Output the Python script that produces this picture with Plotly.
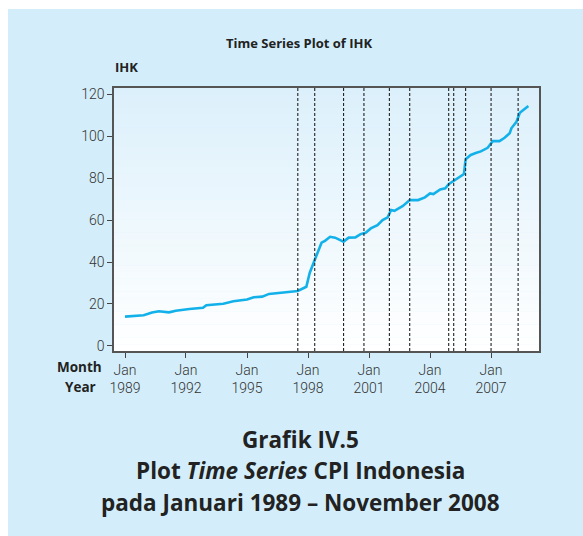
import plotly.graph_objects as go

# ---- data ----
months = [
    "1989-01", "1989-12", "1990-05", "1990-09", "1991-03", "1991-07", "1992-03", "1992-11",
    "1993-01", "1993-11", "1994-05", "1995-01", "1995-05", "1995-10", "1996-02", "1996-10",
    "1997-02", "1997-07", "1997-12", "1998-02", "1998-05", "1998-09", "1998-11", "1999-02",
    "1999-05", "1999-10", "2000-01", "2000-05", "2000-08", "2000-11", "2001-02", "2001-06",
    "2001-09", "2001-12", "2002-02", "2002-04", "2002-09", "2003-01", "2003-06", "2003-10",
    "2004-01", "2004-03", "2004-07", "2004-10", "2004-12", "2005-04", "2005-06", "2005-09",
    "2005-10", "2006-01", "2006-04", "2006-07", "2006-11", "2007-02", "2007-06", "2007-09",
    "2007-12", "2008-01", "2008-04", "2008-06", "2008-11",
]
ihk = [
    14.0, 14.6, 15.9, 16.5, 16.0, 16.8, 17.6, 18.2,
    19.4, 20.1, 21.3, 22.1, 23.2, 23.5, 24.8, 25.4,
    26.0, 26.2, 28.2, 34.9, 41.0, 49.2, 50.1, 52.0,
    51.6, 49.7, 51.6, 51.7, 53.3, 53.9, 56.0, 57.6,
    60.0, 61.3, 64.8, 64.4, 66.7, 69.5, 69.5, 70.8,
    72.7, 72.4, 74.6, 75.1, 77.1, 79.4, 80.2, 81.9,
    89.0, 91.0, 91.9, 92.7, 94.4, 97.6, 97.6, 99.2,
    101.3, 103.7, 106.8, 111.1, 114.3,
]
break_months = ["1997-07", "1998-05", "1999-10", "2000-10", "2002-01", "2003-01",
                "2004-12", "2005-03", "2005-10", "2007-01", "2008-05"]
tick_years = [1989, 1992, 1995, 1998, 2001, 2004, 2007]
y_ticks = [0, 20, 40, 60, 80, 100, 120]

dates = [m + "-01" for m in months]
tick_vals = [f"{y}-01-01" for y in tick_years]
tick_text = [f"Jan<br>{y}" for y in tick_years]

W, H = 583, 536
L, R, T, B = 114, 539, 88, 351

fig = go.Figure()
fig.add_trace(go.Scatter(x=dates, y=ihk, mode="lines",
                         line=dict(color="#13b1ea", width=2.6), showlegend=False,
                         hoverinfo="x+y"))

def px2pap_x(px):
    return (px - L) / (R - L)

def px2pap_y(py):
    return (B - py) / (B - T)

shapes = []
# outer light-blue panel
shapes.append(dict(type="rect", xref="paper", yref="paper",
                   x0=px2pap_x(8), x1=px2pap_x(590), y0=px2pap_y(540), y1=px2pap_y(9),
                   fillcolor="#d3eefa", line=dict(width=0), layer="below"))
# gradient plot background
n = 40
top = (220, 240, 251)
bot = (255, 255, 255)
for i in range(n):
    f = i / (n - 1)
    c = tuple(int(round(top[k] + (bot[k] - top[k]) * f)) for k in range(3))
    shapes.append(dict(type="rect", xref="x domain", yref="y domain",
                       x0=0, x1=1, y0=1 - (i + 1) / n, y1=1 - i / n + 0.001,
                       fillcolor=f"rgb{c}", line=dict(width=0), layer="below"))
# dashed vertical break lines
for m in break_months:
    shapes.append(dict(type="line", xref="x", yref="y domain",
                       x0=m + "-01", x1=m + "-01", y0=0, y1=1,
                       line=dict(color="#222222", width=1.1, dash="3px,2px")))
fig.update_layout(shapes=shapes)

tick_font = dict(family="Roboto, Open Sans, sans-serif", size=14, weight=300,
                 color="#333333")
fig.update_xaxes(range=["1988-06-17", "2009-05-11"], tickmode="array",
                 tickvals=tick_vals, ticktext=tick_text, ticks="outside", ticklen=5,
                 tickcolor="#444444", tickwidth=1, showgrid=False, zeroline=False,
                 showline=True, linecolor="#555555", linewidth=1.5, mirror=True,
                 tickfont=tick_font)
fig.update_yaxes(range=[-2.4, 122.9], tickmode="array", tickvals=y_ticks,
                 ticks="outside", ticklen=5, tickcolor="#444444", tickwidth=1,
                 showgrid=False, zeroline=False, showline=True, linecolor="#555555",
                 linewidth=1.5, mirror=True, tickfont=tick_font)

bold = "Open Sans, Noto Sans, sans-serif"
ann = []
ann.append(dict(text="<b>Time Series Plot of IHK</b>", xref="paper", yref="paper",
                x=px2pap_x(299), y=px2pap_y(43), showarrow=False,
                font=dict(family=bold, size=13, color="#222222"),
                xanchor="center", yanchor="middle"))
ann.append(dict(text="<b>IHK</b>", xref="paper", yref="paper",
                x=px2pap_x(113), y=px2pap_y(67), showarrow=False,
                font=dict(family=bold, size=13, color="#222222"),
                xanchor="left", yanchor="middle"))
ann.append(dict(text="<b>Month</b>", xref="paper", yref="paper",
                x=px2pap_x(104), y=px2pap_y(367), showarrow=False,
                font=dict(family=bold, size=13.5, color="#222222"),
                xanchor="right", yanchor="middle"))
ann.append(dict(text="<b>Year</b>", xref="paper", yref="paper",
                x=px2pap_x(98), y=px2pap_y(387), showarrow=False,
                font=dict(family=bold, size=13.5, color="#222222"),
                xanchor="right", yanchor="middle"))
caption = ["<b>Grafik IV.5</b>",
           "<b>Plot <i>Time Series</i> CPI Indonesia</b>",
           "<b>pada Januari 1989 – November 2008</b>"]
for i, line in enumerate(caption):
    ann.append(dict(text=line, xref="paper", yref="paper",
                    x=px2pap_x(300), y=px2pap_y(439 + 31.5 * i), showarrow=False,
                    font=dict(family=bold, size=22.5, color="#222222"),
                    xanchor="center", yanchor="middle"))
fig.update_layout(annotations=ann)

fig.update_layout(width=W, height=H, autosize=False,
                  margin=dict(l=L, r=W - R, t=T, b=H - B, pad=0),
                  paper_bgcolor="white", plot_bgcolor="white",
                  font=dict(family="Open Sans, Noto Sans, sans-serif"))
fig.write_html("out.html", config={"displayModeBar": False},
               post_script="document.body.style.margin='0';document.body.style.padding='0';")
